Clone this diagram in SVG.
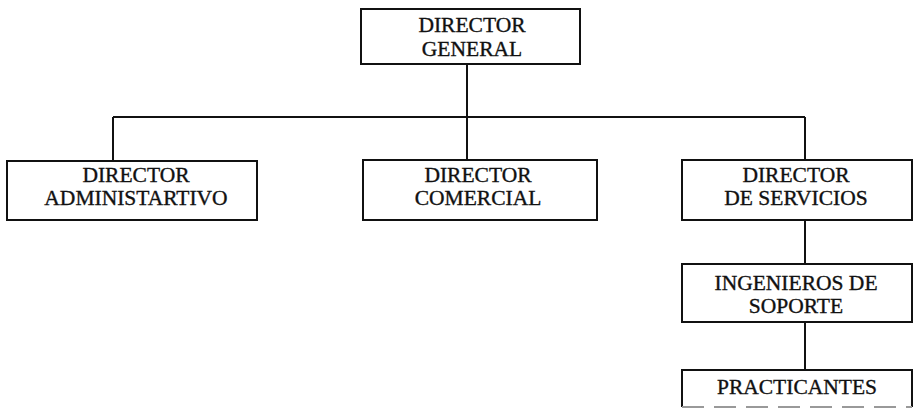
<svg xmlns="http://www.w3.org/2000/svg" width="920" height="414" viewBox="0 0 920 414">
<style>
.box{fill:#fff;stroke:#111;stroke-width:2}
.ln{fill:none;stroke:#111;stroke-width:2}
text{font-family:"Liberation Serif","Times New Roman",serif;font-size:21.5px;fill:#111;text-anchor:middle;stroke:#111;stroke-width:0.35}
</style>
<rect width="920" height="414" fill="#fff"/>
<g id="connectors">
<line class="ln" x1="467" y1="64" x2="467" y2="160"/>
<line class="ln" x1="113" y1="117" x2="805" y2="117"/>
<line class="ln" x1="113" y1="117" x2="113" y2="161"/>
<line class="ln" x1="805" y1="117" x2="805" y2="160"/>
<line class="ln" x1="805" y1="220" x2="805" y2="264"/>
<line class="ln" x1="805" y1="322" x2="805" y2="370"/>
</g>
<g id="director-general">
<rect class="box" x="361" y="9" width="219" height="55"/>
<text x="472" y="32">DIRECTOR</text>
<text x="472" y="56">GENERAL</text>
</g>
<g id="director-administrativo">
<rect class="box" x="7" y="161" width="250" height="59"/>
<text x="136" y="182">DIRECTOR</text>
<text x="136" y="205">ADMINISTARTIVO</text>
</g>
<g id="director-comercial">
<rect class="box" x="363" y="160" width="234" height="60"/>
<text x="478" y="182">DIRECTOR</text>
<text x="478" y="205">COMERCIAL</text>
</g>
<g id="director-servicios">
<rect class="box" x="682" y="160" width="230" height="60"/>
<text x="796" y="182">DIRECTOR</text>
<text x="796" y="205">DE SERVICIOS</text>
</g>
<g id="ingenieros-soporte">
<rect class="box" x="682" y="264" width="230" height="58"/>
<text x="796" y="290">INGENIEROS DE</text>
<text x="796" y="313">SOPORTE</text>
</g>
<g id="practicantes">
<path class="ln" d="M682,407 V370 H912 V407"/>
<line x1="682" y1="407" x2="912" y2="407" stroke="#999" stroke-width="2" stroke-dasharray="22 10"/>
<text x="797" y="394">PRACTICANTES</text>
</g>
</svg>
